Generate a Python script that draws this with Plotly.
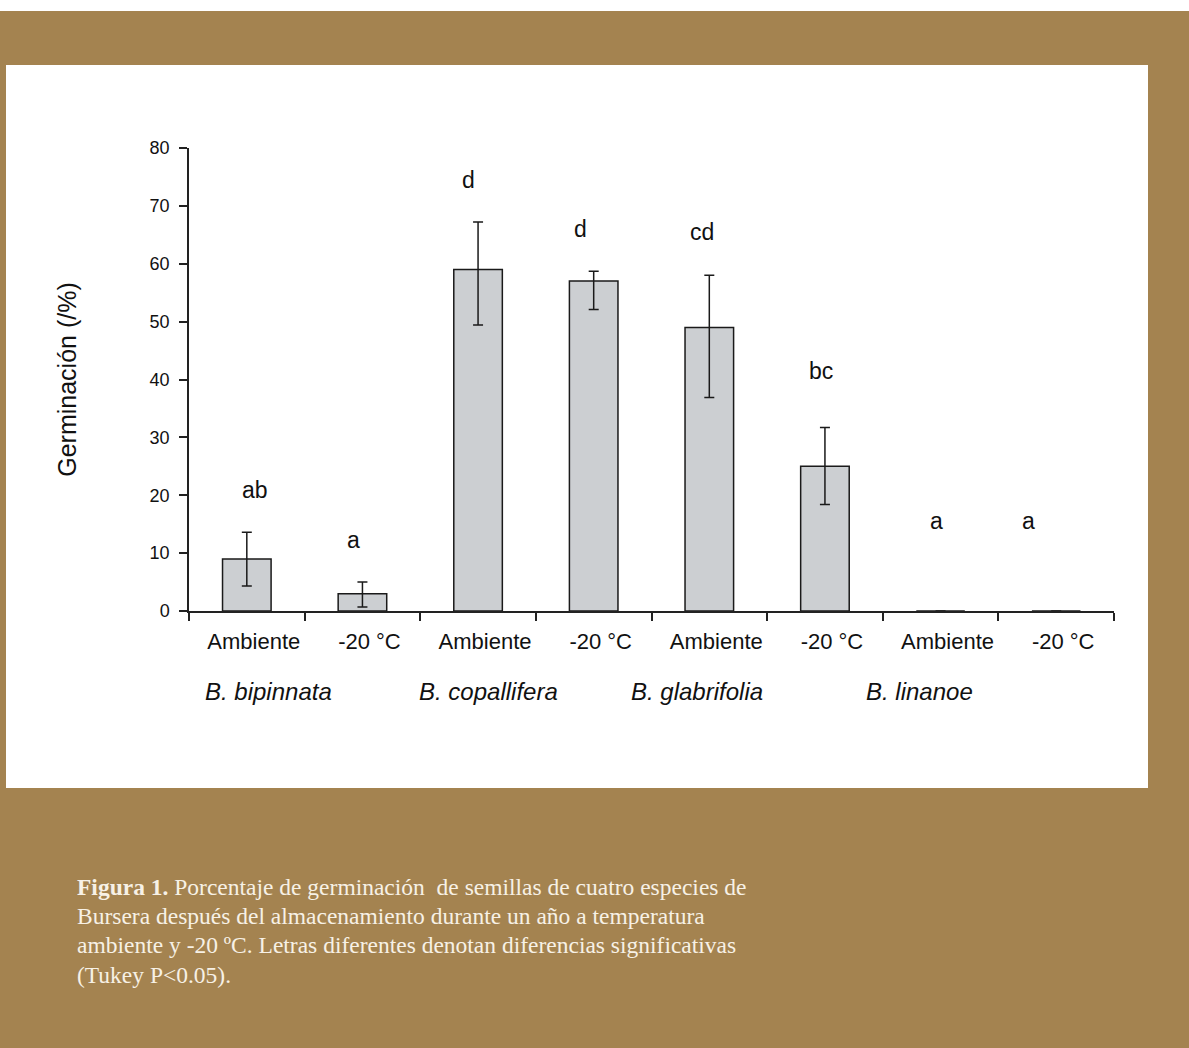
import plotly.graph_objects as go

# ---- data ----
categories = ["c1", "c2", "c3", "c4", "c5", "c6", "c7", "c8"]
tick_labels = ["Ambiente", "-20 °C", "Ambiente", "-20 °C", "Ambiente", "-20 °C", "Ambiente", "-20 °C"]
germination = [9, 3, 59, 57, 49, 25, 0, 0]
err_plus = [4.6, 2.0, 8.2, 1.7, 9.0, 6.7, 0, 0]
err_minus = [4.7, 2.3, 9.6, 4.9, 12.1, 6.6, 0, 0]
letters = ["ab", "a", "d", "d", "cd", "bc", "a", "a"]
letter_y = [20.9, 12.3, 74.5, 66.0, 65.5, 41.5, 15.6, 15.6]
letter_shift = [8, -9, -10, -13, -7, -4, -4, -28]
species = ["B. bipinnata", "B. copallifera", "B. glabrifolia", "B. linanoe"]
species_px = [268, 488, 697, 919]
caption_lines = [
    "<b>Figura 1.</b> Porcentaje de germinación  de semillas de cuatro especies de",
    "Bursera después del almacenamiento durante un año a temperatura",
    "ambiente y -20 ºC. Letras diferentes denotan diferencias significativas",
    "(Tukey P<0.05).",
]
caption_py = [887, 916, 945, 975]

W, H = 1189, 1048
L, R, T, B = 189, 1114, 148, 611
BROWN = "#A48350"
SANS = "Liberation Sans, Arial"

def px2x(px):
    return (px - L) / (R - L)

def py2y(py):
    return (B - py) / (B - T)

fig = go.Figure()
fig.add_trace(go.Bar(
    x=categories, y=germination, width=0.42,
    marker=dict(color="#CCCFD2", line=dict(color="#1a1a1a", width=1.5)),
    error_y=dict(type="data", symmetric=False, array=err_plus, arrayminus=err_minus,
                 color="#1a1a1a", thickness=1.5, width=5),
    showlegend=False,
))

annotations = []
for c, t, yv, s in zip(categories, letters, letter_y, letter_shift):
    annotations.append(dict(x=c, y=yv, text=t, showarrow=False, xshift=s,
                            font=dict(family=SANS, size=23, color="#111")))
for sp, px in zip(species, species_px):
    annotations.append(dict(x=px2x(px), y=py2y(691), xref="paper", yref="paper", text=f"<i>{sp}</i>",
                            xanchor="center", yanchor="middle",
                            showarrow=False, font=dict(family=SANS, size=24, color="#111")))
for line, py in zip(caption_lines, caption_py):
    annotations.append(dict(x=px2x(75), y=py2y(py), xref="paper", yref="paper", text=line,
                            xanchor="left", yanchor="middle", showarrow=False, align="left",
                            font=dict(family="Liberation Serif, Times New Roman", size=23.5, color="#F7F1E6")))

shapes = [
    dict(type="rect", xref="paper", yref="paper", layer="below",
         x0=px2x(6), x1=px2x(1148), y0=py2y(788), y1=py2y(65),
         fillcolor="white", line=dict(width=0)),
    dict(type="rect", xref="paper", yref="paper", layer="below",
         x0=px2x(0), x1=px2x(W), y0=py2y(11), y1=py2y(0),
         fillcolor="white", line=dict(width=0)),
]

fig.update_layout(
    width=W, height=H,
    margin=dict(l=L, r=W - R, t=T, b=H - B),
    paper_bgcolor=BROWN, plot_bgcolor="white",
    annotations=annotations, shapes=shapes,
    font=dict(family=SANS, color="#111"),
)
fig.update_xaxes(
    type="category", tickmode="array", tickvals=categories, ticktext=tick_labels,
    showline=True, linecolor="#222", linewidth=1.5, ticks="outside", tickson="boundaries",
    ticklen=8, tickcolor="#222", tickwidth=1.5, showgrid=False, zeroline=False,
    tickfont=dict(size=22, family=SANS, color="#111"),
    ticklabelstandoff=10, ticklabelshift=7,
    range=[-0.5, 7.5],
)
fig.update_yaxes(
    range=[0, 80], tickvals=[0, 10, 20, 30, 40, 50, 60, 70, 80],
    showline=True, linecolor="#222", linewidth=1.5, ticks="outside", ticklen=8,
    tickcolor="#222", tickwidth=1.5, showgrid=False, zeroline=False,
    tickfont=dict(size=18, family=SANS, color="#111"),
    ticklabelstandoff=6,
    title=dict(text="Germinación (/%)", font=dict(size=25, family=SANS, color="#111"),
               standoff=66),
)

fig.write_html("out.html", config={"displayModeBar": False},
               post_script="document.body.style.margin='0';document.body.style.overflow='hidden';")
